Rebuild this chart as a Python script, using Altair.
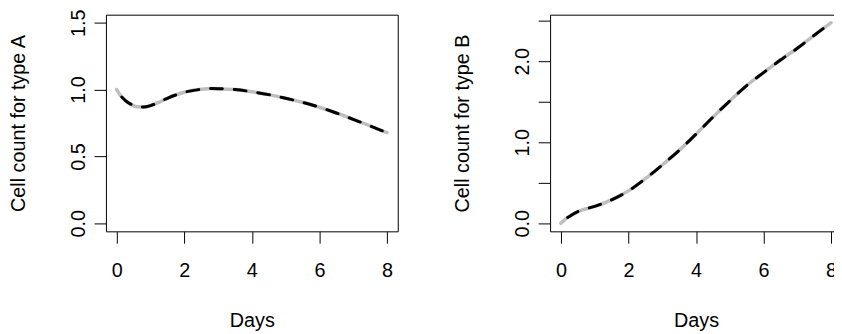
import altair as alt
import pandas as pd

# ---- data ----
days_a = [0, 0.1, 0.25, 0.4, 0.6, 0.8, 1.0, 1.25, 1.5, 1.75, 2.0, 2.5, 2.8, 3.0, 3.5,
          4.0, 4.5, 5.0, 5.5, 6.0, 6.5, 7.0, 7.5, 8.0]
count_a = [1.0, 0.96, 0.92, 0.893, 0.872, 0.869, 0.88, 0.905, 0.935, 0.96, 0.98, 1.002,
           1.008, 1.007, 1.0, 0.984, 0.962, 0.935, 0.905, 0.868, 0.825, 0.778, 0.728, 0.678]

days_b = [0, 0.1, 0.25, 0.5, 0.75, 1.0, 1.5, 2.0, 2.5, 3.0, 3.5, 4.0, 4.5, 5.0, 5.5,
          6.0, 6.5, 7.0, 7.5, 8.0]
count_b = [0.0, 0.04, 0.085, 0.145, 0.18, 0.21, 0.29, 0.40, 0.55, 0.72, 0.90, 1.10,
           1.31, 1.51, 1.70, 1.86, 2.015, 2.16, 2.32, 2.475]

x_ticks = [0, 2, 4, 6, 8]
y_ticks_a = [0.0, 0.5, 1.0, 1.5]
y_ticks_b = [0.0, 0.5, 1.0, 1.5, 2.0, 2.5]

FONT = "Liberation Sans"
FS = 20
H = 219
X_DOMAIN = [-0.32, 8.32]


def panel(days, counts, ytitle, ydomain, yticks, label_expr, width):
    df = pd.DataFrame({"Days": days, "Count": counts})
    x = alt.X(
        "Days:Q",
        scale=alt.Scale(domain=X_DOMAIN, nice=False, zero=False),
        axis=alt.Axis(values=x_ticks, format="d", title="Days",
                      tickSize=12, labelPadding=34, labelBaseline="alphabetic",
                      titleBaseline="alphabetic", titleY=96),
    )
    y = alt.Y(
        "Count:Q",
        scale=alt.Scale(domain=ydomain, nice=False, zero=False),
        axis=alt.Axis(values=yticks, labelExpr=label_expr, title=ytitle,
                      tickSize=12, labelAngle=270, labelAlign="center",
                      labelBaseline="alphabetic", labelPadding=10,
                      titleAngle=270, titleAlign="center", titleBaseline="alphabetic",
                      titleX=-82, titleY=H / 2),
    )
    base = alt.Chart(df).encode(x=x, y=y)
    gray = base.mark_line(color="#bebebe", strokeWidth=3.5, interpolate="monotone",
                          strokeCap="round")
    black = base.mark_line(color="black", strokeWidth=3, strokeDash=[12, 12],
                           strokeDashOffset=15, strokeCap="round", interpolate="monotone")
    return alt.layer(gray, black).properties(width=width, height=H)


left = panel(days_a, count_a, "Cell count for type A", [-0.06, 1.56], y_ticks_a,
             "format(datum.value, '.1f')", 295)
right = panel(days_b, count_b, "Cell count for type B", [-0.099, 2.574], y_ticks_b,
              "datum.value % 1 == 0 ? format(datum.value, '.1f') : ''", 295)

# the right panel runs past the page edge, as in the reference (its right side is cut)
chart = (
    alt.hconcat(left, right, spacing=154, bounds="flush")
    .properties(padding={"left": 0, "top": -2, "right": -9, "bottom": 0})
    .configure_view(stroke="black", strokeWidth=1)
    .configure_axis(
        labelFont=FONT, titleFont=FONT, labelFontSize=FS, titleFontSize=FS,
        labelColor="black", titleColor="black", titleFontWeight="normal",
        tickColor="black", tickWidth=1, domain=False, grid=False,
    )
)

chart.save("out.html", embed_options={"renderer": "svg", "actions": False})
